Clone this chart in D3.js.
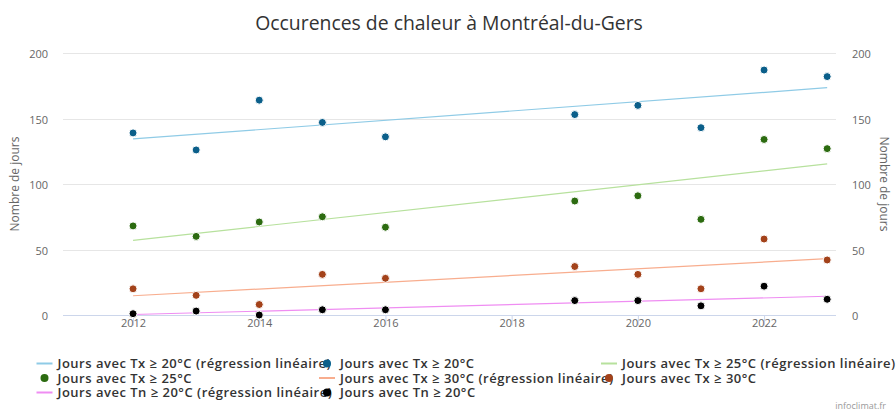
<!DOCTYPE html>
<html>
<head>
<meta charset="utf-8">
<script src="https://cdn.jsdelivr.net/npm/d3@7"></script>
<style>
  body { margin: 0; background: #fff; }
  svg { display: block; font-family: "Open Sans", "DejaVu Sans", sans-serif; }
</style>
</head>
<body>
<svg id="chart"></svg>
<script>
// data
var years = [2012, 2013, 2014, 2015, 2016, 2019, 2020, 2021, 2022, 2023];
var tx20 = [139, 126, 164, 147, 136, 153, 160, 143, 187, 182];
var tx25 = [68, 60, 71, 75, 67, 87, 91, 73, 134, 127];
var tx30 = [20, 15, 8, 31, 28, 37, 31, 20, 58, 42];
var tn20 = [1, 3, 0, 4, 4, 11, 11, 7, 22, 12];
// regression lines, start and end values
var regYears = [2012, 2023];
var tx20Reg = [134.4, 173.5];
var tx25Reg = [57, 115.3];
var tx30Reg = [14.7, 43];
var tn20Reg = [0.4, 14.3];
var xTicks = [2012, 2014, 2016, 2018, 2020, 2022];
var yTicks = [0, 50, 100, 150, 200];

var width = 896, height = 414;
var plot = { left: 63, right: 836, top: 53, bottom: 315 };

var series = [
	{ name: 'Jours avec Tx ≥ 20°C', vals: tx20, reg: tx20Reg, dot: '#0b5f8a', line: '#8fcbe6' },
	{ name: 'Jours avec Tx ≥ 25°C', vals: tx25, reg: tx25Reg, dot: '#2c6b10', line: '#b7e19d' },
	{ name: 'Jours avec Tx ≥ 30°C', vals: tx30, reg: tx30Reg, dot: '#a3421a', line: '#f8ad8e' },
	{ name: 'Jours avec Tn ≥ 20°C', vals: tn20, reg: tn20Reg, dot: '#000000', line: '#ef8df2' }
];

var svg = d3.select('#chart')
	.attr('width', width)
	.attr('height', height);

var x = d3.scaleLinear().domain([2010.89, 2023.14]).range([plot.left, plot.right]);
var y = d3.scaleLinear().domain([0, 200]).range([plot.bottom, plot.top]);

svg.append('text')
	.attr('x', width / 2 + 1)
	.attr('y', 30)
	.attr('text-anchor', 'middle')
	.attr('font-size', '19.4px')
	.attr('fill', '#333')
	.text('Occurences de chaleur à Montréal-du-Gers');

// gridlines
svg.append('g').selectAll('line')
	.data(yTicks.filter(function(d) { return d > 0; }))
	.join('line')
	.attr('x1', plot.left).attr('x2', plot.right)
	.attr('y1', function(d) { return Math.round(y(d)) + 0.5; })
	.attr('y2', function(d) { return Math.round(y(d)) + 0.5; })
	.attr('stroke', '#e6e6e6');

// y axes (left and right), no lines
var yLeft = svg.append('g')
	.attr('transform', 'translate(' + (plot.left - 15) + ',0)')
	.call(d3.axisLeft(y).tickValues(yTicks).tickSize(0).tickPadding(0));
var yRight = svg.append('g')
	.attr('transform', 'translate(' + (plot.right + 16) + ',0)')
	.call(d3.axisRight(y).tickValues(yTicks).tickSize(0).tickPadding(0));
[yLeft, yRight].forEach(function(g) {
	g.select('.domain').remove();
	g.selectAll('text')
		.attr('fill', '#666')
		.attr('font-size', '11px')
		.attr('font-family', '"Open Sans", sans-serif')
		.attr('dy', '0.62em')
		.attr('transform', 'translate(0,-2)');
});

svg.append('text')
	.attr('transform', 'translate(19,' + (plot.top + plot.bottom) / 2 + ') rotate(-90)')
	.attr('text-anchor', 'middle')
	.attr('font-size', '12px')
	.attr('fill', '#666')
	.text('Nombre de jours');
svg.append('text')
	.attr('transform', 'translate(880,' + (plot.top + plot.bottom) / 2 + ') rotate(90)')
	.attr('text-anchor', 'middle')
	.attr('font-size', '12px')
	.attr('fill', '#666')
	.text('Nombre de jours');

// x axis
var xAxis = svg.append('g')
	.attr('transform', 'translate(0,' + (plot.bottom + 0.5) + ')')
	.call(d3.axisBottom(x).tickValues(xTicks).tickFormat(d3.format('d')).tickSize(10).tickSizeOuter(0).tickPadding(3));
xAxis.select('.domain').attr('stroke', '#ccd6eb').attr('d', 'M' + plot.left + ',0H' + plot.right);
xAxis.selectAll('line').attr('stroke', '#ccd6eb');
xAxis.selectAll('text')
	.attr('fill', '#666')
	.attr('font-size', '11px')
	.attr('font-family', '"Open Sans", sans-serif')
	.attr('dy', '-0.1em');

// regression lines
var regLine = d3.line()
	.x(function(d, i) { return x(regYears[i]); })
	.y(function(d) { return y(d); });
svg.append('g').selectAll('path')
	.data(series)
	.join('path')
	.attr('d', function(s) { return regLine(s.reg); })
	.attr('fill', 'none')
	.attr('stroke', function(s) { return s.line; })
	.attr('stroke-width', 1.2);

// points
series.forEach(function(s) {
	svg.append('g').selectAll('circle')
		.data(s.vals)
		.join('circle')
		.attr('cx', function(d, i) { return x(years[i]); })
		.attr('cy', function(d) { return y(d); })
		.attr('r', 4)
		.attr('fill', s.dot)
		.attr('stroke', '#fff')
		.attr('stroke-width', 1);
});

// legend: 8 items, 3 columns (long labels run under the next item, as in the original)
var legendItems = [];
series.forEach(function(s) {
	legendItems.push({ label: s.name + ' (régression linéaire)', type: 'line', color: s.line });
	legendItems.push({ label: s.name, type: 'dot', color: s.dot });
});
var colX = [44.5, 327, 609];
var rowY = [363.5, 378, 392.5];
var legend = svg.append('g');
var item = legend.selectAll('g')
	.data(legendItems)
	.join('g')
	.attr('transform', function(d, i) {
		return 'translate(' + colX[i % 3] + ',' + rowY[Math.floor(i / 3)] + ')';
	});
item.append('text')
	.attr('x', 13)
	.attr('dy', '0.35em')
	.attr('font-size', '13px')
	.attr('font-weight', 600)
	.attr('letter-spacing', '0.5px')
	.attr('fill', '#333')
	.text(function(d) { return d.label; });
item.filter(function(d) { return d.type === 'line'; })
	.append('line')
	.attr('x1', -8).attr('x2', 8)
	.attr('stroke', function(d) { return d.color; })
	.attr('stroke-width', 2);
item.filter(function(d) { return d.type === 'dot'; })
	.append('circle')
	.attr('r', 4)
	.attr('fill', function(d) { return d.color; });

svg.append('text')
	.attr('x', 886)
	.attr('y', 409)
	.attr('text-anchor', 'end')
	.attr('font-size', '9px')
	.attr('fill', '#999')
	.text('infoclimat.fr');
</script>
</body>
</html>
